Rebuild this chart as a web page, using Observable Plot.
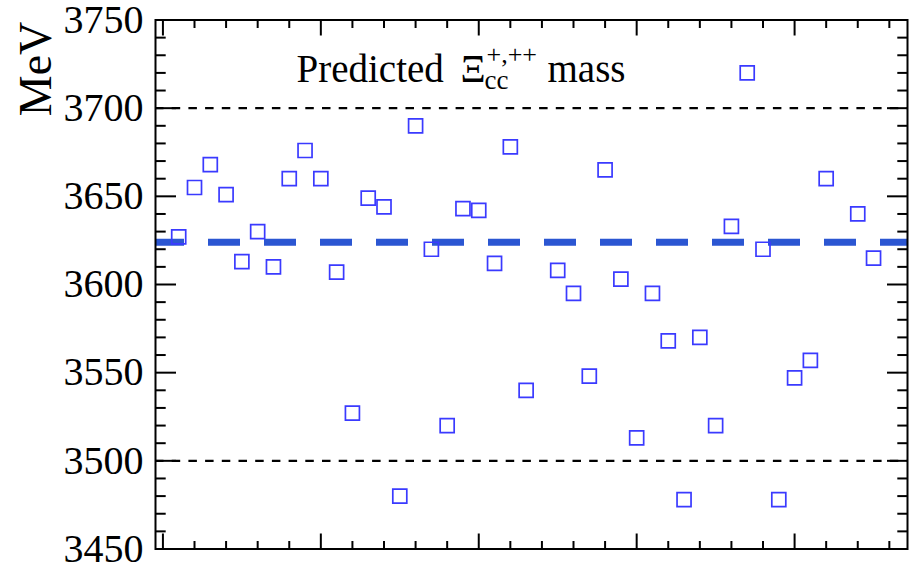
<!DOCTYPE html>
<html><head><meta charset="utf-8">
<script src="https://cdn.jsdelivr.net/npm/d3@7"></script>
<script src="https://cdn.jsdelivr.net/npm/@observablehq/plot@0.6"></script>
<style>body{margin:0;background:#fff}</style>
</head><body><div id="chart"></div>
<script>
const pointIndex = [1,2,3,4,5,6,7,8,9,10,11,12,13,14,15,16,17,18,19,20,21,22,23,25,26,27,28,29,30,31,32,33,34,35,36,37,38,39,40,41,42,44,45];
const predictedMass = [3627,3655,3668,3651,3613,3630,3610,3660,3676,3660,3607,3527,3649,3644,3480,3690,3620,3520,3643,3642,3612,3678,3540,3608,3595,3548,3665,3603,3513,3595,3568,3478,3570,3520,3633,3720,3620,3478,3547,3557,3660,3640,3615];
const averageMass = [3624];
const referenceLines = [3500, 3700];
const yTickValues = [3450,3500,3550,3600,3650,3700,3750];
const yMinorTicks = [3460,3470,3480,3490,3510,3520,3530,3540,3560,3570,3580,3590,3610,3620,3630,3640,3660,3670,3680,3690,3710,3720,3730,3740];
const xTickValues = [0,10,20,30,40];
const xMinorTicks = [2,4,6,8,12,14,16,18,22,24,26,28,32,34,36,38,42,44,46];
const yLabel = "MeV";

const points = pointIndex.map((i, k) => ({i, m: predictedMass[k]}));
const serif = "'Liberation Serif', 'Times New Roman', serif";

const tickStyle = {fill: "none", stroke: "black", strokeWidth: 2, label: null};

const chart = Plot.plot({
  width: 914,
  height: 566,
  marginLeft: 155,
  marginRight: 7,
  marginTop: 19.5,
  marginBottom: 17.5,
  style: {fontFamily: serif, background: "white", color: "black"},
  x: {domain: [-0.47, 47.15]},
  y: {domain: [3450, 3750]},
  marks: [
    Plot.ruleY(referenceLines, {stroke: "black", strokeWidth: 2.2, strokeDasharray: "8.5,8.2"}),
    Plot.ruleY(averageMass, {stroke: "#2b56d2", strokeWidth: 7, strokeDasharray: "32,24", strokeDashoffset: 3}),
    Plot.dot(points, {x: "i", y: "m", symbol: "square", r: 7.9, stroke: "#3a3aff", strokeWidth: 1.7, fill: "none"}),
    Plot.axisY(yTickValues, {anchor: "left", tickSize: 21, insetLeft: 21, ...tickStyle}),
    Plot.axisY(yMinorTicks, {anchor: "left", tickSize: 10.7, insetLeft: 10.7, ...tickStyle}),
    Plot.axisY(yTickValues, {anchor: "right", tickSize: 21, insetRight: 21, ...tickStyle}),
    Plot.axisY(yMinorTicks, {anchor: "right", tickSize: 10.7, insetRight: 10.7, ...tickStyle}),
    Plot.axisX(xTickValues, {anchor: "bottom", tickSize: 15, insetBottom: 15, ...tickStyle}),
    Plot.axisX(xMinorTicks, {anchor: "bottom", tickSize: 7.5, insetBottom: 7.5, ...tickStyle}),
    Plot.axisX(xTickValues, {anchor: "top", tickSize: 15, insetTop: 15, ...tickStyle}),
    Plot.axisX(xMinorTicks, {anchor: "top", tickSize: 7.5, insetTop: 7.5, ...tickStyle}),
    Plot.axisY(yTickValues, {anchor: "left", tickSize: 0, tickPadding: 12, fontSize: 40, tickFormat: d => String(d), label: null, fill: "black"}),
    Plot.frame({stroke: "black", strokeWidth: 2}),
    Plot.text([yLabel], {text: d => d, frameAnchor: "top-left", rotate: -90, dx: -105, dy: 49, textAnchor: "middle", lineAnchor: "bottom", fontSize: 46, fill: "black"}),
    Plot.text(["Predicted"], {
      text: d => d, frameAnchor: "top-left", dx: 141, dy: 62.2, textAnchor: "start", lineAnchor: "bottom", fontSize: 39, fill: "black",
      render(index, scales, values, dims, context, next) {
        const g = next(index, scales, values, dims, context);
        const t = d3.select(g).select("text");
        t.text(null);
        t.append("tspan").attr("x", 0).attr("y", 0).text("Predicted");
        t.append("tspan").attr("x", 164).attr("y", 0).text("Ξ");
        t.append("tspan").attr("x", 188).attr("y", 6.5).attr("font-size", 27).text("cc");
        t.append("tspan").attr("x", 190).attr("y", -19.5).attr("font-size", 26).text("+,++");
        t.append("tspan").attr("x", 251).attr("y", 0).text("mass");
        return g;
      }
    })
  ]
});
document.getElementById("chart").appendChild(chart);
</script>
</body></html>
